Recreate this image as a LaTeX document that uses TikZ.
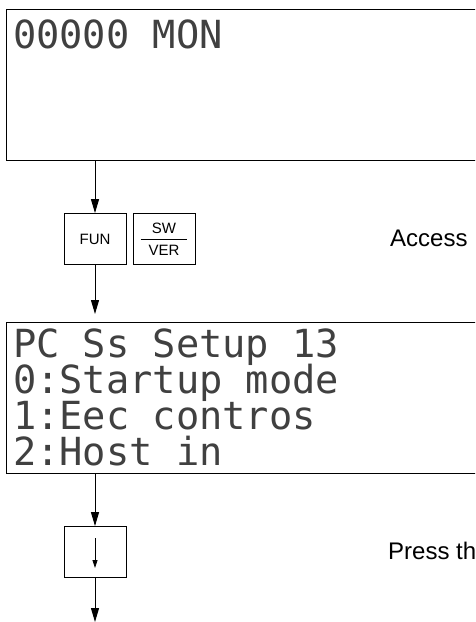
\documentclass[tikz,border=0pt]{standalone}
\usepackage{fontspec}
\setmainfont{Liberation Sans}
\newfontfamily\lcdfont{DejaVu Sans Mono}
\usetikzlibrary{arrows.meta}
\tikzset{
  screen/.style={draw, line width=1pt, minimum width=490pt, minimum height=151pt, anchor=north west, inner sep=0pt},
  lcd/.style={anchor=base west, inner sep=0pt, font=\lcdfont\fontsize{38.7}{38.7}\selectfont, text=black!75},
  keybox/.style={draw, line width=0.8pt, minimum width=62pt, minimum height=51pt, inner sep=0pt, font=\fontsize{15}{22}\selectfont, align=center},
  note/.style={anchor=base west, inner sep=0pt, font=\fontsize{24}{24}\selectfont},
  flow/.style={line width=1pt, -{Triangle[length=14pt,width=8pt]}},
  tiny/.style={line width=0.8pt, -{Triangle[length=8pt,width=5pt]}}
}
\begin{document}
\begin{tikzpicture}[x=1pt,y=-1pt]
\clip (0,0) rectangle (475,622);
\fill[white] (0,0) rectangle (475,622);
% screen 1
\node[screen] (screen1) at (6,9) {};
\node[lcd] (l0) at (12.8,48) {00000 MON};
% keys
\node[keybox] (fun) at (95,239) {FUN};
\node[keybox] (swver) at (164,239) {SW\\VER};
\draw[line width=0.7pt] ([xshift=8pt]swver.west) -- ([xshift=-8pt]swver.east);
\node[note] (access) at (390,246) {Access};
% screen 2
\node[screen] (screen2) at (6,322) {};
\node[lcd] (l1) at (12.8,357) {PC Ss Setup 13};
\node[lcd] (l2) at (12.8,393) {0:Startup mode};
\node[lcd] (l3) at (12.8,429) {1:Eec contros};
\node[lcd] (l4) at (12.8,465) {2:Host in};
% down key
\node[keybox] (down) at (95,552) {};
\coordinate (dtop) at (95,538);
\coordinate (dbot) at (95,568);
\draw[tiny] (dtop) -- (dbot);
\node[note] (press) at (388,559) {Press th};
% connectors
\coordinate (c1) at (95,160);
\coordinate (c2) at (95,314);
\coordinate (c3) at (95,622);
\draw[flow] (c1) -- (fun.north);
\draw[flow] (fun.south) -- (c2);
\draw[flow] (fun.north |- screen2.south) -- (down.north);
\draw[flow] (down.south) -- (c3);
\end{tikzpicture}
\end{document}
